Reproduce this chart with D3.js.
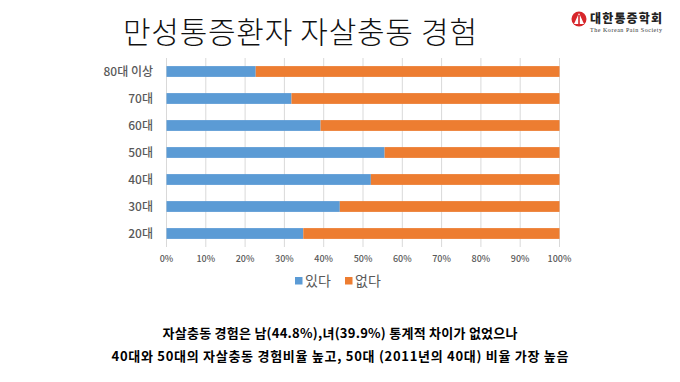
<!DOCTYPE html>
<html><head><meta charset="utf-8">
<script src="https://cdn.jsdelivr.net/npm/d3@7"></script>
<style>
html,body{margin:0;padding:0;background:#fff;}
svg{display:block;font-family:"Noto Sans CJK KR","Noto Sans",sans-serif;}
</style></head>
<body>
<svg id="chart" width="680" height="382"></svg>
<script>
const categories = ["80대 이상","70대","60대","50대","40대","30대","20대"];
const yesValues = [22.7, 31.8, 39.2, 55.5, 52.0, 44.1, 34.8];
const noValues = [77.3, 68.2, 60.8, 44.5, 48.0, 55.9, 65.2];
const seriesNames = ["있다","없다"];
const seriesColors = ["#5b9bd5","#ed7d31"];
const xTicks = [0,10,20,30,40,50,60,70,80,90,100];
const titleText = "만성통증환자 자살충동 경험";
const noteLines = ["자살충동 경험은 남(44.8%),녀(39.9%) 통계적 차이가 없었으나",
                   "40대와 50대의 자살충동 경험비율 높고, 50대 (2011년의 40대) 비율 가장 높음"];

const svg = d3.select("#chart");
const x = d3.scaleLinear().domain([0,100]).range([166.5,559.5]);
const y = d3.scaleBand().domain(categories).range([58,247]).paddingInner(0.6).paddingOuter(0.3);

// title
svg.append("text").attr("x",123).attr("y",43).attr("font-size",30).attr("font-weight",300)
  .attr("fill","#111").attr("textLength",354).attr("lengthAdjust","spacing").text(titleText);

// logo
const logo = svg.append("g");
logo.append("circle").attr("cx",579).attr("cy",19).attr("r",7.5).attr("fill","#d7262b");
logo.append("path").attr("d","M574,24 L579,13 L584,24 Z").attr("fill","#fff");
logo.append("rect").attr("x",578.2).attr("y",15).attr("width",1.6).attr("height",9).attr("fill","#d7262b");
logo.append("text").attr("x",590).attr("y",22.5).attr("font-size",12).attr("font-weight",900)
  .attr("fill","#222").attr("textLength",72).text("대한통증학회");
logo.append("text").attr("x",590).attr("y",31.5).attr("font-size",6)
  .attr("font-family","'Liberation Serif',serif").attr("fill","#333").attr("textLength",72).text("The Korean Pain Society");

// gridlines
svg.append("g").selectAll("line").data(xTicks).join("line")
  .attr("x1",d=>x(d)).attr("x2",d=>x(d)).attr("y1",58).attr("y2",247)
  .attr("stroke","#d9d9d9").attr("stroke-width",1);

// bars
const stacked = categories.map((c,i)=>({c, vals:[yesValues[i], noValues[i]]}));
const rows = svg.append("g").selectAll("g").data(stacked).join("g");
rows.each(function(d){
  let acc = 0;
  d.vals.forEach((v,k)=>{
    d3.select(this).append("rect")
      .attr("x",x(acc)).attr("width",x(acc+v)-x(acc))
      .attr("y",y(d.c)).attr("height",y.bandwidth())
      .attr("fill",seriesColors[k]);
    acc += v;
  });
});

// y axis labels
svg.append("g").selectAll("text").data(categories).join("text")
  .attr("x",153).attr("y",d=>y(d)+y.bandwidth()/2).attr("dy","0.36em")
  .attr("text-anchor","end").attr("font-size",12).attr("font-weight",500)
  .attr("fill","#595959").text(d=>d);

// x axis labels
svg.append("g").selectAll("text").data(xTicks).join("text")
  .attr("x",d=>x(d)).attr("y",262).attr("text-anchor","middle")
  .attr("font-size",9).attr("font-weight",500).attr("fill","#595959").text(d=>d+"%");

// legend
const legX = [295, 345];
const leg = svg.append("g").selectAll("g").data(seriesNames).join("g")
  .attr("transform",(d,i)=>`translate(${legX[i]},277)`);
leg.append("rect").attr("width",7.5).attr("height",7.5).attr("fill",(d,i)=>seriesColors[i]);
leg.append("text").attr("x",10).attr("y",9).attr("font-size",14).attr("fill","#595959").text(d=>d);

// notes
const noteLen = [355, 457];
svg.append("g").selectAll("text").data(noteLines).join("text")
  .attr("x",340).attr("y",(d,i)=>338+i*22.5).attr("text-anchor","middle")
  .attr("font-size",13).attr("font-weight",700).attr("fill","#000")
  .attr("textLength",(d,i)=>noteLen[i]).attr("lengthAdjust","spacing").text(d=>d);
</script>
</body></html>
